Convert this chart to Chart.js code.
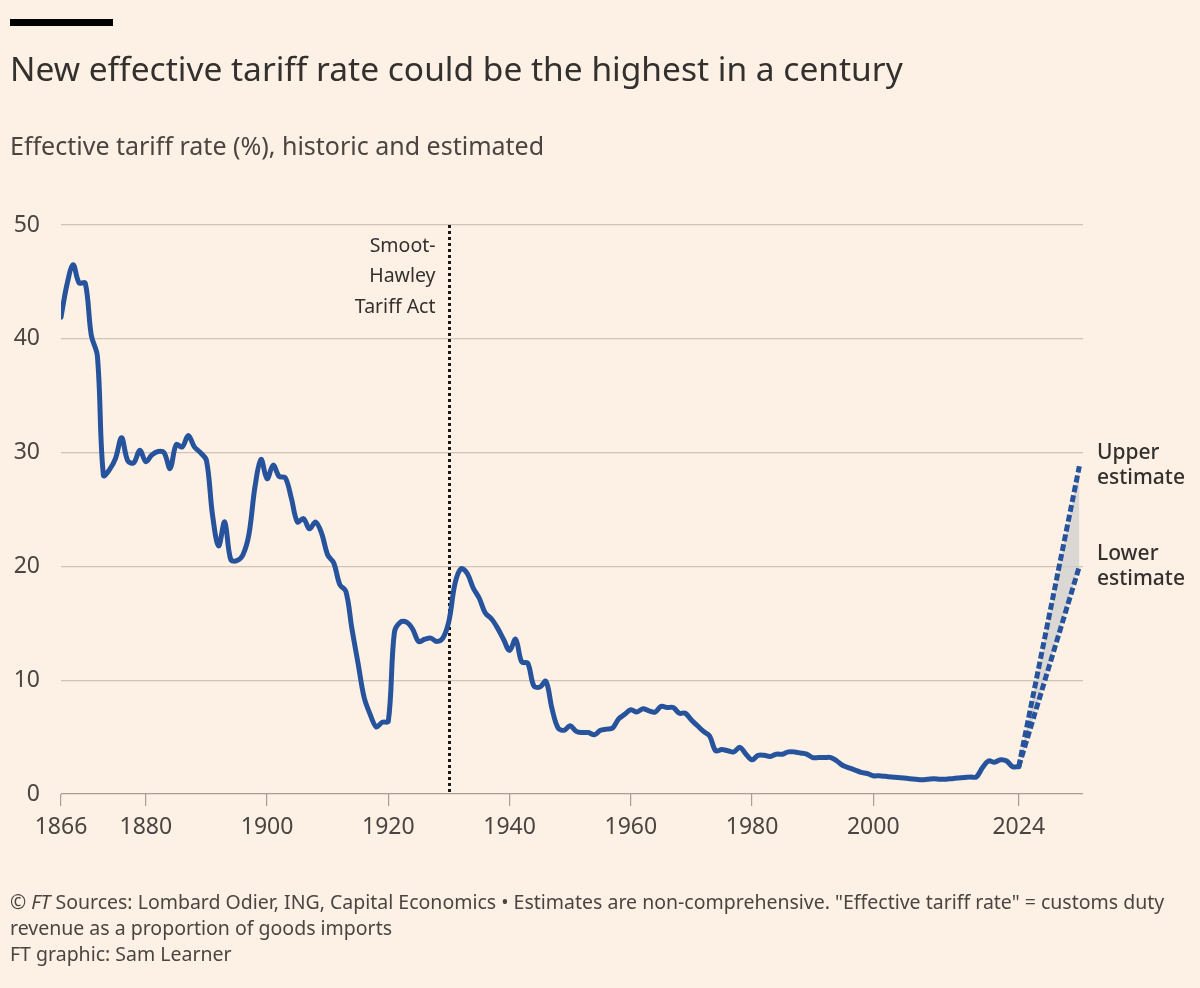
<!DOCTYPE html>
<html>
<head>
<meta charset="utf-8">
<script src="https://cdn.jsdelivr.net/npm/chart.js@4.4.1/dist/chart.umd.min.js"></script>
<style>
  html, body { margin: 0; padding: 0; background: #fdf1e6; }
  body { width: 1200px; height: 988px; position: relative; overflow: hidden;
         font-family: "Noto Sans", sans-serif; color: #33302e; }
  .bar { position: absolute; left: 10px; top: 19px; width: 103px; height: 7px; background: #000; }
  .title { position: absolute; left: 10px; top: 48px; font-size: 33.5px; line-height: 40px; white-space: nowrap; }
  .subtitle { position: absolute; left: 10px; top: 130px; font-size: 25px; line-height: 30px; color: #4a4541; white-space: nowrap; }
  .footer { position: absolute; left: 10px; top: 889px; font-size: 19.5px; line-height: 26px; color: #4a4541; white-space: nowrap; }
  #wrap { position: absolute; left: 0; top: 0; width: 1200px; height: 988px; }
</style>
</head>
<body>
<div id="wrap"><canvas id="tariffChart"></canvas></div>
<div class="bar"></div>
<div class="title">New effective tariff rate could be the highest in a century</div>
<div class="subtitle">Effective tariff rate (%), historic and estimated</div>
<div class="footer">© <i>FT</i> Sources: Lombard Odier, ING, Capital Economics • Estimates are non-comprehensive. "Effective tariff rate" = customs duty<br>revenue as a proportion of goods imports<br>FT graphic: Sam Learner</div>
<script>
// historic series, one value per year from 1866 to 2024
const firstYear = 1866;
const historic = [
  41.9, 44.8, 46.5, 44.9, 44.9, 40.3, 38.5, 28.0, 28.5, 29.5,   // 1866-1875
  31.3, 29.3, 29.1, 30.2, 29.2, 29.8, 30.1, 30.0, 28.6, 30.7,   // 1876-1885
  30.5, 31.5, 30.5, 30.0, 29.3, 24.5, 21.8, 23.9, 20.6, 20.5,   // 1886-1895
  21.0, 22.8, 27.0, 29.4, 27.7, 28.9, 27.9, 27.8, 26.0, 23.9,   // 1896-1905
  24.2, 23.3, 23.9, 22.9, 21.0, 20.3, 18.4, 17.8, 14.5, 11.5,   // 1906-1915
  8.5, 7.0, 5.9, 6.3, 6.4, 14.2, 15.1, 15.1, 14.5, 13.4,        // 1916-1925
  13.6, 13.7, 13.4, 13.7, 15.2, 18.5, 19.8, 19.4, 18.1, 17.2,   // 1926-1935
  15.9, 15.4, 14.6, 13.6, 12.6, 13.6, 11.6, 11.5, 9.5, 9.4,     // 1936-1945
  9.9, 7.5, 5.8, 5.6, 6.0, 5.5, 5.4, 5.4, 5.2, 5.6,             // 1946-1955
  5.7, 5.8, 6.6, 7.0, 7.4, 7.2, 7.5, 7.3, 7.2, 7.7,             // 1956-1965
  7.6, 7.6, 7.1, 7.1, 6.5, 6.0, 5.5, 5.1, 3.8, 3.9,             // 1966-1975
  3.8, 3.7, 4.1, 3.5, 3.0, 3.4, 3.4, 3.3, 3.5, 3.5,             // 1976-1985
  3.7, 3.7, 3.6, 3.5, 3.2, 3.2, 3.2, 3.2, 2.9, 2.5,             // 1986-1995
  2.3, 2.1, 1.9, 1.8, 1.6, 1.6, 1.55, 1.5, 1.45, 1.4,           // 1996-2005
  1.35, 1.3, 1.25, 1.3, 1.35, 1.3, 1.3, 1.35, 1.4, 1.45,        // 2006-2015
  1.5, 1.5, 2.3, 2.9, 2.8, 3.0, 2.9, 2.4, 2.4                   // 2016-2024
];
const estimateYears = [2024, 2034];
const upperEstimate = [2.4, 28.8];
const lowerEstimate = [2.4, 20.0];
const xTickYears = [1866, 1880, 1900, 1920, 1940, 1960, 1980, 2000, 2024];
const yTicks = [0, 10, 20, 30, 40, 50];
const smootHawleyYear = 1930;

const blue = "#26539b";
const tickFont = { family: "Noto Sans", size: 23 };

const historicPoints = historic.map((v, i) => ({ x: firstYear + i, y: v }));
const upperPoints = estimateYears.map((yr, i) => ({ x: yr, y: upperEstimate[i] }));
const lowerPoints = estimateYears.map((yr, i) => ({ x: yr, y: lowerEstimate[i] }));

const annotations = {
  id: "annotations",
  beforeDatasetsDraw(chart) {
    const { ctx, chartArea, scales } = chart;
    const x = Math.round(scales.x.getPixelForValue(smootHawleyYear)) + 0.5;
    ctx.save();
    ctx.strokeStyle = "#1a1817";
    ctx.lineWidth = 3;
    ctx.setLineDash([3, 3]);
    ctx.beginPath();
    ctx.moveTo(x, chartArea.top);
    ctx.lineTo(x, chartArea.bottom);
    ctx.stroke();
    ctx.setLineDash([]);
    ctx.fillStyle = "#33302e";
    ctx.font = "19.5px 'Noto Sans'";
    ctx.textAlign = "right";
    ctx.textBaseline = "middle";
    ["Smoot-", "Hawley", "Tariff Act"].forEach((t, i) => {
      ctx.fillText(t, x - 14, chartArea.top + 21 + i * 30.5);
    });
    ctx.restore();
  },
  afterDatasetsDraw(chart) {
    const { ctx, chartArea, scales } = chart;
    const last = estimateYears.length - 1;
    ctx.save();
    ctx.fillStyle = "#33302e";
    ctx.font = "500 21px 'Noto Sans'";
    ctx.textAlign = "left";
    ctx.textBaseline = "middle";
    const tx = chartArea.right + 14;
    const yu = scales.y.getPixelForValue(upperEstimate[last]);
    const yl = scales.y.getPixelForValue(lowerEstimate[last]);
    ctx.fillText("Upper", tx, yu - 13);
    ctx.fillText("estimate", tx, yu + 12);
    ctx.fillText("Lower", tx, yl - 12);
    ctx.fillText("estimate", tx, yl + 13);
    ctx.restore();
  }
};

new Chart(document.getElementById("tariffChart"), {
  type: "line",
  data: {
    datasets: [
      {
        label: "Historic",
        data: historicPoints,
        borderColor: blue,
        borderWidth: 5,
        pointRadius: 0,
        tension: 0.35,
        borderJoinStyle: "round",
        borderCapStyle: "round",
        fill: false
      },
      {
        label: "Upper estimate",
        data: upperPoints,
        borderColor: blue,
        borderWidth: 5,
        borderDash: [7, 3],
        pointRadius: 0,
        fill: false
      },
      {
        label: "Lower estimate",
        data: lowerPoints,
        borderColor: blue,
        borderWidth: 5,
        borderDash: [7, 3],
        pointRadius: 0,
        fill: "-1",
        backgroundColor: "rgba(205, 205, 205, 0.75)"
      }
    ]
  },
  options: {
    responsive: true,
    maintainAspectRatio: false,
    animation: false,
    layout: { padding: { left: 0, right: 117, top: 225, bottom: 144 } },
    plugins: {
      legend: { display: false },
      tooltip: { enabled: false }
    },
    scales: {
      x: {
        type: "linear",
        min: 1866,
        max: 2034.6,
        afterBuildTicks: (axis) => { axis.ticks = xTickYears.map(v => ({ value: v })); },
        afterFit: (axis) => { axis.height = 50; },
        grid: { drawOnChartArea: false, drawTicks: true, tickLength: 12, color: "#a79f97", lineWidth: 1.2 },
        border: { display: false },
        ticks: {
          font: tickFont, color: "#4a4541", padding: 8, maxRotation: 0, autoSkip: false,
          callback: (value) => String(value)
        }
      },
      y: {
        min: 0,
        max: 50,
        afterBuildTicks: (axis) => { axis.ticks = yTicks.map(v => ({ value: v })); },
        afterFit: (axis) => { axis.width = 61; },
        grid: {
          drawTicks: false,
          color: (c) => c.tick && c.tick.value === 0 ? "#a79f97" : "#cfc4b9",
          lineWidth: 1.2
        },
        border: { display: false },
        ticks: { font: tickFont, color: "#4a4541", padding: 21 }
      }
    }
  },
  plugins: [annotations]
});
</script>
</body>
</html>
